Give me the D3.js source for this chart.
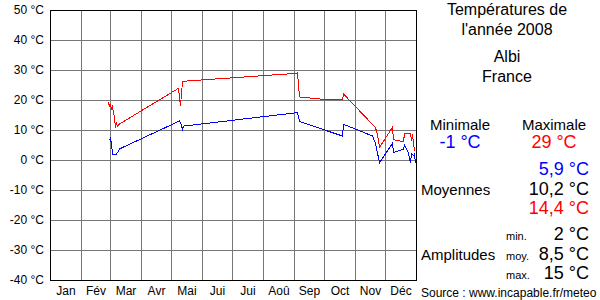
<!DOCTYPE HTML>
<html>
<head>
<meta http-equiv="content-type" content="text/html; charset=utf-8">
<title>Températures 2008 Albi</title>
<script src="https://d3js.org/d3.v7.min.js"></script>
<style>
body { margin: 0; background: #fff; }
svg { display: block; font-family: "Liberation Sans", Arial, sans-serif; }
.grid line { stroke: #777; stroke-width: 1; shape-rendering: crispEdges; }
.axis text { font-size: 12px; fill: #000; }
.axis path, .axis line { display: none; }
.serie { fill: none; stroke-width: 1; shape-rendering: crispEdges; }
</style>
</head>
<body>
<svg width="600" height="300"></svg>
<script type="text/javascript">
// valeurs
var monthLabels = ["Jan", "Fév", "Mar", "Avr", "Mai", "Jui", "Jui", "Aoû", "Sep", "Oct", "Nov", "Déc"];
var yTicks = [50, 40, 30, 20, 10, 0, -10, -20, -30, -40];

var maxDates = ["2008-02-28", "2008-02-29", "2008-03-01", "2008-03-02", "2008-03-03", "2008-03-05", "2008-03-06",
	"2008-03-07", "2008-03-08", "2008-03-10", "2008-05-08", "2008-05-09", "2008-05-10", "2008-05-12", "2008-05-15",
	"2008-08-30", "2008-09-04", "2008-09-06", "2008-09-27", "2008-10-19", "2008-10-20", "2008-11-21", "2008-11-23",
	"2008-11-25", "2008-12-08", "2008-12-09", "2008-12-19", "2008-12-20", "2008-12-26", "2008-12-27", "2008-12-28",
	"2008-12-30", "2008-12-31"];
var maxValues = [19.2, 17.8, 18.3, 17, 17.8, 14, 10.8,
	12.2, 11.3, 12, 23.9, 20.6, 18.1, 26.1, 26.3,
	28.8, 29, 21, 20.3, 20, 22, 10.8, 8.3,
	4.2, 10.9, 6.8, 6.1, 8.8, 8.8, 6.5, 8.5,
	3.2, 3.5];

var minDates = ["2008-02-29", "2008-03-01", "2008-03-02", "2008-03-03", "2008-03-07", "2008-03-09", "2008-03-10",
	"2008-05-09", "2008-05-10", "2008-05-12", "2008-05-13", "2008-08-30", "2008-09-04", "2008-09-06", "2008-10-19",
	"2008-10-20", "2008-11-18", "2008-11-21", "2008-11-25", "2008-12-08", "2008-12-09", "2008-12-19", "2008-12-20",
	"2008-12-24", "2008-12-26", "2008-12-27", "2008-12-29", "2008-12-30", "2008-12-31"];
var minValues = [6.7, 7.2, 5.2, 2, 2, 3, 3.7,
	13, 12.4, 10.3, 11.3, 15.6, 15.9, 12.8, 8,
	11.9, 8, 5.6, -0.9, 5.6, 2.5, 3.6, 5,
	2.2, -0.9, 2.2, 1.5, 2, -1];

var titleLines = ["Températures de", "l'année 2008", "Albi", "France"];
var extremes = {min: "-1 °C", max: "29 °C"};
var moyennes = ["5,9 °C", "10,2 °C", "14,4 °C"];
var amplitudeLabels = ["min.", "moy.", "max."];
var amplitudes = ["2 °C", "8,5 °C", "15 °C"];

var svg = d3.select("svg"),
	parse = d3.timeParse("%Y-%m-%d");

var x = d3.scaleTime()
	.domain([new Date(2008, 0, 1), new Date(2009, 0, 1)])
	.range([50, 416]);
var y = d3.scaleLinear().domain([-40, 50]).range([280, 10]);

// grille
var grid = svg.append("g").attr("class", "grid");
grid.selectAll(".h").data(yTicks.slice(1, -1)).enter().append("line")
	.attr("x1", x.range()[0]).attr("x2", x.range()[1])
	.attr("y1", function(d) { return y(d); }).attr("y2", function(d) { return y(d); });
var months = d3.timeMonth.range(new Date(2008, 1, 1), new Date(2009, 0, 1));
grid.selectAll(".v").data(months).enter().append("line")
	.attr("x1", function(d) { return x(d); }).attr("x2", function(d) { return x(d); })
	.attr("y1", y(50)).attr("y2", y(-40));

svg.append("rect")
	.attr("x", x.range()[0]).attr("y", y(50))
	.attr("width", x.range()[1] - x.range()[0]).attr("height", y(-40) - y(50))
	.attr("fill", "none").attr("stroke", "#000").attr("shape-rendering", "crispEdges");

// axes
var mids = d3.timeMonth.range(new Date(2008, 0, 1), new Date(2009, 0, 1)).map(function(d) {
	return new Date((+d + +d3.timeMonth.offset(d, 1)) / 2);
});
svg.append("g")
	.attr("class", "axis")
	.attr("transform", "translate(0," + y(-40) + ")")
	.call(d3.axisBottom(x).tickValues(mids).tickSize(0).tickPadding(6)
		.tickFormat(function(d, i) { return monthLabels[i]; }));

svg.append("g")
	.attr("class", "axis")
	.attr("transform", "translate(" + (x.range()[0] - 6) + ",0)")
	.call(d3.axisLeft(y).tickValues(yTicks).tickSize(0).tickPadding(0)
		.tickFormat(function(d) { return String(d) + " °C"; }));

// courbes
var line = d3.line()
	.x(function(d) { return x(d.date) + 0.5; })
	.y(function(d) { return y(d.value); });

function serie(dates, values) {
	return dates.map(function(d, i) { return {date: parse(d), value: values[i]}; });
}

svg.append("path").attr("class", "serie").attr("stroke", "#0000ff")
	.attr("d", line(serie(minDates, minValues)));
svg.append("path").attr("class", "serie").attr("stroke", "#ff0000")
	.attr("d", line(serie(maxDates, maxValues)));

// texte de droite
var panel = svg.append("g").attr("fill", "#000");
panel.selectAll(".t").data(titleLines).enter().append("text")
	.attr("x", 507)
	.attr("y", function(d, i) { return [15, 35, 62, 82][i]; })
	.attr("text-anchor", "middle")
	.style("font-size", "16px")
	.text(function(d) { return d; });

panel.append("text").attr("x", 460).attr("y", 130).attr("text-anchor", "middle")
	.style("font-size", "15px").text("Minimale");
panel.append("text").attr("x", 554).attr("y", 130).attr("text-anchor", "middle")
	.style("font-size", "15px").text("Maximale");
panel.append("text").attr("x", 460).attr("y", 148).attr("text-anchor", "middle")
	.style("font-size", "18px").attr("fill", "#0000ff").text(extremes.min);
panel.append("text").attr("x", 554).attr("y", 148).attr("text-anchor", "middle")
	.style("font-size", "18px").attr("fill", "#ff0000").text(extremes.max);

panel.append("text").attr("x", 421).attr("y", 195)
	.style("font-size", "15px").text("Moyennes");
panel.selectAll(".m").data(moyennes).enter().append("text")
	.attr("x", 589)
	.attr("y", function(d, i) { return 175 + i * 19.5; })
	.attr("text-anchor", "end")
	.style("font-size", "18px")
	.attr("fill", function(d, i) { return ["#0000ff", "#000", "#ff0000"][i]; })
	.text(function(d) { return d; });

panel.append("text").attr("x", 421).attr("y", 260)
	.style("font-size", "15px").text("Amplitudes");
panel.selectAll(".al").data(amplitudeLabels).enter().append("text")
	.attr("x", 506)
	.attr("y", function(d, i) { return 240 + i * 19.5; })
	.style("font-size", "11px")
	.text(function(d) { return d; });
panel.selectAll(".av").data(amplitudes).enter().append("text")
	.attr("x", 589)
	.attr("y", function(d, i) { return 240 + i * 19.5; })
	.attr("text-anchor", "end")
	.style("font-size", "18px")
	.text(function(d) { return d; });

panel.append("text").attr("x", 421).attr("y", 297)
	.style("font-size", "12px").text("Source : www.incapable.fr/meteo");
</script>
</body>
</html>
